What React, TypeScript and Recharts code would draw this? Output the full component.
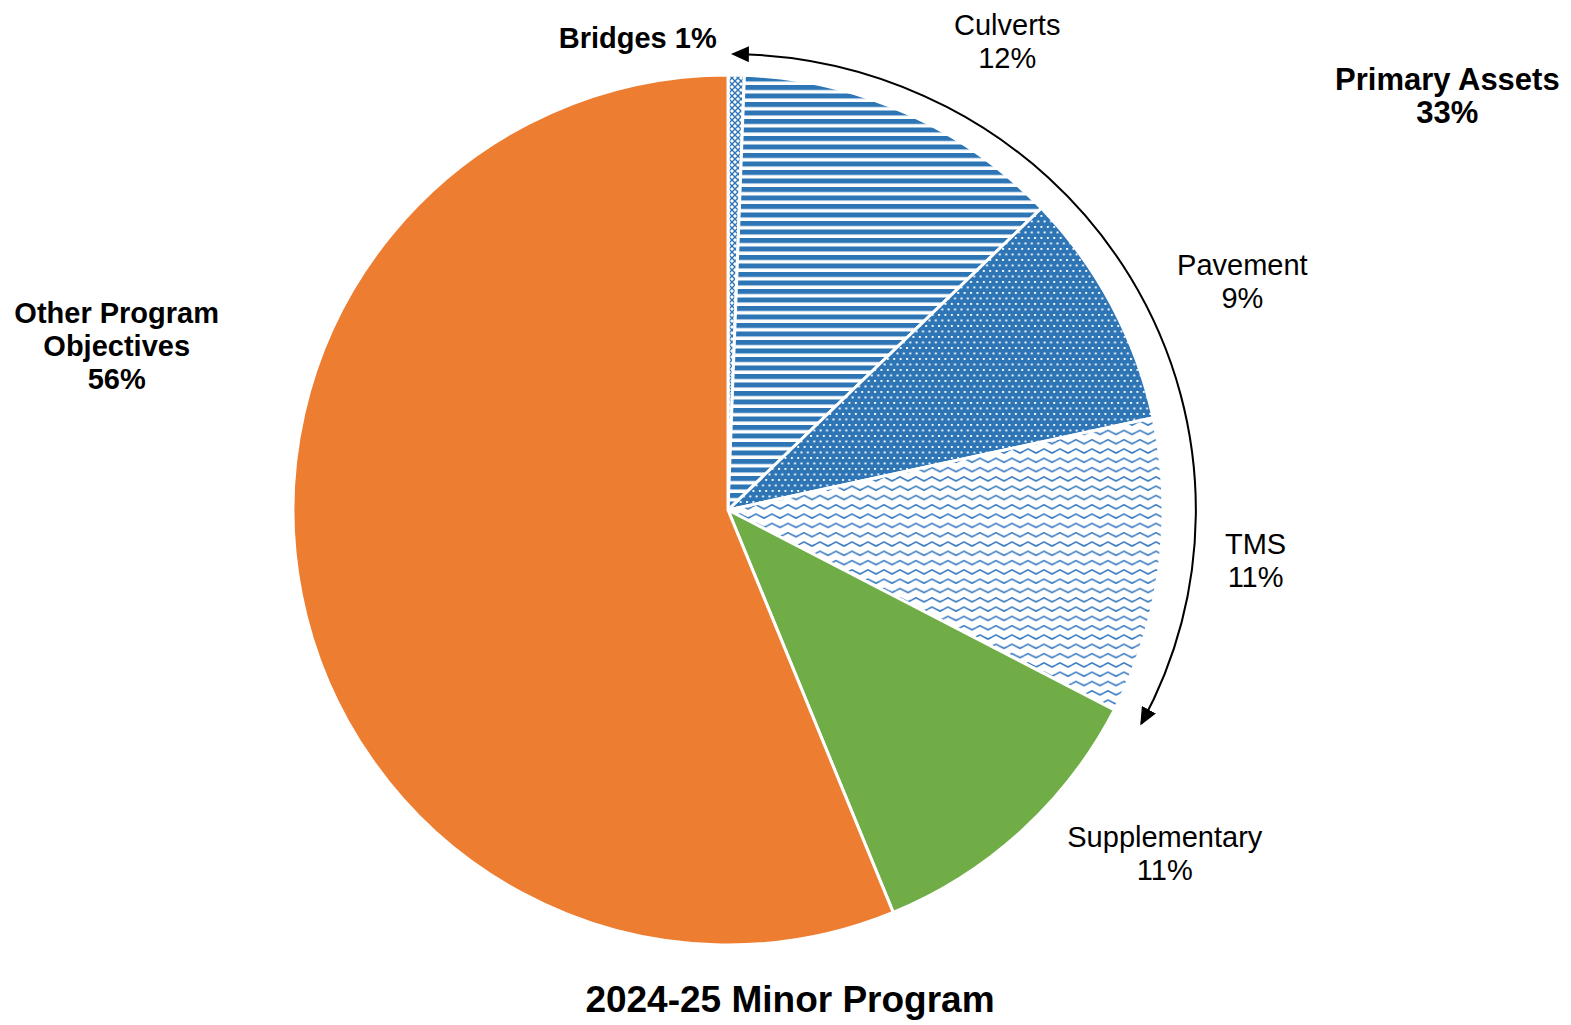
import React from "react";
import { PieChart, Pie, Cell } from "recharts";

const SLICE_NAMES = ["Bridges", "Culverts", "Pavement", "TMS", "Supplementary", "Other Program\nObjectives"];
const SLICE_VALUES = [0.6, 12.2, 8.8, 11.0, 11.2, 56.2];
const SLICE_FILLS = ["url(#pBridges)", "url(#pCulverts)", "url(#pPavement)", "url(#pTMS)", "#70AD47", "#ED7D31"];
const SLICE_BOLD = [true, false, false, false, false, true];
const SLICE_INLINE_PCT = [true, false, false, false, false, false];

const GROUP_NAMES = ["Primary Assets", ""];
const GROUP_VALUES = [32.6, 67.4];

const TITLE = "2024-25 Minor Program";

// label placement nudges: [angle offset (deg), radial offset (px)]
const LABEL_NUDGE: [number, number][] = [
  [-11.9, 46],
  [6.7, 110],
  [4.1, 128],
  [-2.1, 95],
  [-9.3, 121],
  [26.2, 198],
];
const GROUP_NUDGE: [number, number] = [0.8, 374];

const BLUE = "#2E75B6";
const FONT = "'Liberation Sans', Arial, Helvetica, sans-serif";
const LINE_H = 33;
const FS = 29;
const ARC_STRETCH = 1.026;

const sliceData = SLICE_NAMES.map((name, i) => ({ name, value: SLICE_VALUES[i] }));
const groupData = GROUP_NAMES.map((name, i) => ({ name, value: GROUP_VALUES[i] }));

function blockText(x: number, y: number, lines: string[], bold: boolean, fs: number, key?: string) {
  const n = lines.length;
  return (
    <text key={key} x={x} y={y} textAnchor="middle" fontFamily={FONT} fontSize={fs} fontWeight={bold ? 700 : 400} fill="#000">
      {lines.map((l, i) => (
        <tspan key={i} x={x} y={y + (i - (n - 1) / 2) * LINE_H + 10}>
          {l}
        </tspan>
      ))}
    </text>
  );
}

function place(cx: number, cy: number, midAngle: number, r: number, nudge: [number, number]) {
  const theta = ((90 - midAngle + nudge[0]) * Math.PI) / 180;
  const rr = r + nudge[1];
  return { x: cx + rr * Math.sin(theta), y: cy - rr * Math.cos(theta) };
}

const renderSliceLabel = (props: any) => {
  const { cx, cy, midAngle, outerRadius, index } = props;
  const { x, y } = place(cx, cy, midAngle, outerRadius, LABEL_NUDGE[index]);
  const pct = Math.round(SLICE_VALUES[index]) + "%";
  const nameLines = SLICE_NAMES[index].split("\n");
  const lines = SLICE_INLINE_PCT[index] ? [nameLines.join(" ") + " " + pct] : [...nameLines, pct];
  return blockText(x, y, lines, SLICE_BOLD[index], FS, "l" + index);
};

const renderGroupLabel = (props: any) => {
  const { cx, cy, midAngle, outerRadius, index } = props;
  if (index !== 0) return null;
  const { x, y } = place(cx, cy, midAngle, outerRadius, GROUP_NUDGE);
  const pct = Math.round(GROUP_VALUES[0]) + "%";
  return blockText(x, y, [GROUP_NAMES[0], pct], true, 31, "g0");
};

const ArcShape = (props: any) => {
  const { cx, cy, outerRadius, startAngle, endAngle, payload } = props;
  const name = payload?.name ?? props.name;
  if (name !== GROUP_NAMES[0]) return <g />;
  const rad = Math.PI / 180;
  const rx = outerRadius * ARC_STRETCH;
  const ry = outerRadius;
  const x1 = cx + Math.cos(-startAngle * rad) * rx;
  const y1 = cy + Math.sin(-startAngle * rad) * ry;
  const x2 = cx + Math.cos(-endAngle * rad) * rx;
  const y2 = cy + Math.sin(-endAngle * rad) * ry;
  const large = Math.abs(startAngle - endAngle) > 180 ? 1 : 0;
  return (
    <path
      d={`M${x1},${y1} A${rx},${ry} 0 ${large} 1 ${x2},${y2}`}
      fill="none"
      stroke="#000"
      strokeWidth={2}
      markerStart="url(#arrowHead)"
      markerEnd="url(#arrowHead)"
    />
  );
};

export default function App() {
  return (
    <div style={{ position: "absolute", left: 0, top: 0, width: 1571, height: 1025, background: "#fff" }}>
      <PieChart width={1571} height={1025} margin={{ top: 0, right: 0, bottom: 0, left: 0 }}>
        <defs>
          <pattern id="pBridges" patternUnits="userSpaceOnUse" width="6" height="6">
            <rect width="6" height="6" fill="#fff" />
            <path d="M0,0 L6,6 M6,0 L0,6" stroke={BLUE} strokeWidth="1.4" />
          </pattern>
          <pattern id="pCulverts" patternUnits="userSpaceOnUse" width="20" height="8.5">
            <rect width="20" height="8.5" fill="#fff" />
            <rect y="0" width="20" height="5" fill={BLUE} />
          </pattern>
          <pattern id="pPavement" patternUnits="userSpaceOnUse" width="6.4" height="11">
            <rect width="6.4" height="11" fill={BLUE} />
            <rect x="0.5" y="0.5" width="1.9" height="1.9" fill="#fff" />
            <rect x="3.7" y="6" width="1.9" height="1.9" fill="#fff" />
          </pattern>
          <pattern id="pTMS" patternUnits="userSpaceOnUse" width="16" height="9.3">
            <rect width="16" height="9.3" fill="#fff" />
            <path d="M0,4.6 L4,2.6 L8,4.6 L12,6.6 L16,4.6" fill="none" stroke="#3D7EC2" strokeWidth="1.7" strokeLinejoin="round" />
          </pattern>
          <marker id="arrowHead" markerUnits="userSpaceOnUse" markerWidth="18" markerHeight="16" viewBox="0 0 18 16" refX="16" refY="8" orient="auto-start-reverse">
            <path d="M0,0 L18,8 L0,16 Z" fill="#000" />
          </marker>
        </defs>
        <Pie
          data={sliceData}
          dataKey="value"
          nameKey="name"
          cx={728}
          cy={510}
          outerRadius={435}
          startAngle={90}
          endAngle={-270}
          stroke="#fff"
          strokeWidth={3}
          label={renderSliceLabel}
          labelLine={false}
          isAnimationActive={false}
        >
          {sliceData.map((d, i) => (
            <Cell key={d.name} fill={SLICE_FILLS[i]} />
          ))}
        </Pie>
        <Pie
          data={groupData}
          dataKey="value"
          nameKey="name"
          cx={728}
          cy={510}
          innerRadius={455}
          outerRadius={456}
          startAngle={89.4}
          endAngle={-270.6}
          fill="none"
          stroke="none"
          shape={ArcShape}
          label={renderGroupLabel}
          labelLine={false}
          isAnimationActive={false}
        />
        <text x={790} y={1012} textAnchor="middle" fontFamily={FONT} fontSize={37} fontWeight={700} fill="#000">
          {TITLE}
        </text>
      </PieChart>
    </div>
  );
}
